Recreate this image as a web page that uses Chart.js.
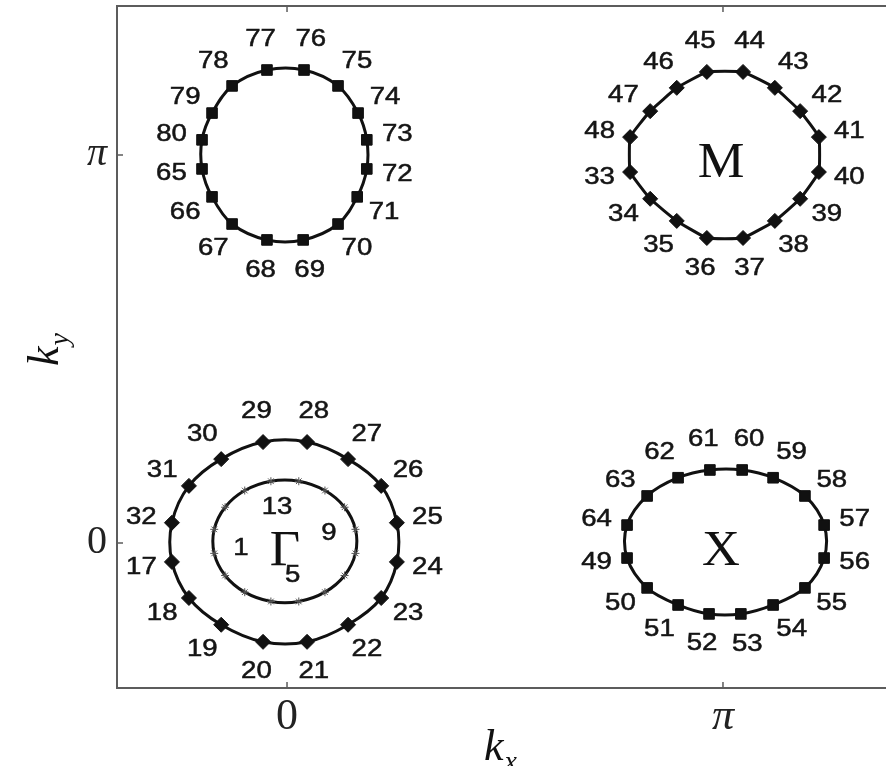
<!DOCTYPE html>
<html>
<head>
<meta charset="utf-8">
<title>Fermi pockets and k-points</title>
<script src="https://cdn.jsdelivr.net/npm/chart.js@4.4.1/dist/chart.umd.min.js"></script>
<style>
  html, body { margin: 0; padding: 0; background: #fff; overflow: hidden; }
  #wrap { width: 900px; height: 766px; }
</style>
</head>
<body>
<div id="wrap"><canvas id="bz" width="900" height="766"></canvas></div>
<script>
// k-points on each pocket (units of pi), counter-clockwise starting left of centre
var gammaInX = [-0.167, -0.142, -0.097, -0.037, 0.027, 0.087, 0.132, 0.157, 0.157, 0.132, 0.087, 0.027, -0.037, -0.097, -0.142, -0.167];
var gammaInY = [-0.027, -0.084, -0.127, -0.151, -0.151, -0.127, -0.084, -0.027, 0.035, 0.092, 0.135, 0.159, 0.159, 0.135, 0.092, 0.035];

var gammaOutX = [-0.264, -0.225, -0.151, -0.055, 0.046, 0.140, 0.216, 0.252, 0.252, 0.216, 0.140, 0.046, -0.055, -0.151, -0.225, -0.264];
var gammaOutY = [-0.049, -0.142, -0.211, -0.255, -0.255, -0.211, -0.142, -0.049, 0.052, 0.147, 0.216, 0.260, 0.260, 0.216, 0.147, 0.052];

var mX = [0.787, 0.833, 0.894, 0.963, 1.046, 1.119, 1.177, 1.220, 1.220, 1.177, 1.119, 1.046, 0.963, 0.894, 0.833, 0.787];
var mY = [0.956, 0.887, 0.830, 0.786, 0.786, 0.830, 0.887, 0.956, 1.046, 1.113, 1.173, 1.214, 1.214, 1.173, 1.113, 1.046];

var xPocketX = [0.780, 0.826, 0.897, 0.968, 1.041, 1.115, 1.188, 1.232, 1.232, 1.188, 1.115, 1.044, 0.970, 0.897, 0.826, 0.780];
var xPocketY = [-0.039, -0.116, -0.160, -0.183, -0.183, -0.160, -0.116, -0.039, 0.046, 0.121, 0.168, 0.188, 0.188, 0.168, 0.121, 0.046];

var yPocketX = [-0.195, -0.172, -0.126, -0.046, 0.037, 0.117, 0.161, 0.183, 0.183, 0.163, 0.117, 0.039, -0.046, -0.126, -0.172, -0.195];
var yPocketY = [0.964, 0.892, 0.822, 0.781, 0.781, 0.822, 0.892, 0.964, 1.039, 1.108, 1.178, 1.219, 1.219, 1.178, 1.108, 1.039];

// first k-point number on each pocket
var pocketFirst = [1, 17, 33, 49, 65];

var tickValues = [0, 1];
var tickNames = ['0', 'π'];

var symNames = ['Γ', 'X', 'M'];
var symX = [0, 1, 1];
var symY = [0, 0, 1];

var LABEL_FONT = '23px "Liberation Sans", Arial, sans-serif';
var SERIF = '"Liberation Serif", "Times New Roman", serif';

// wrap the loop: one point before and two after so the spline closes smoothly
function closedLoop(xs, ys) {
  var n = xs.length;
  var pts = [{x: xs[n - 1], y: ys[n - 1]}];
  for (var i = 0; i < n; i++) {
    pts.push({x: xs[i], y: ys[i]});
  }
  pts.push({x: xs[0], y: ys[0]});
  pts.push({x: xs[1], y: ys[1]});
  return pts;
}

function pocket(xs, ys, style, radius, tension) {
  var n = xs.length;
  var star = style === 'star';
  return {
    data: closedLoop(xs, ys),
    showLine: true,
    borderColor: '#111',
    borderWidth: 3,
    tension: tension,
    pointStyle: style,
    pointBackgroundColor: star ? '#555' : '#111',
    pointBorderColor: star ? '#555' : '#111',
    pointBorderWidth: 1,
    pointRadius: function(ctx) {
      return (ctx.dataIndex >= 1 && ctx.dataIndex <= n) ? radius : 0;
    },
    segment: {
      borderColor: function(ctx) {
        if (ctx.p0DataIndex === 0 || ctx.p0DataIndex === n + 1) return 'rgba(0,0,0,0)';
        return undefined;
      }
    }
  };
}

// text widened a little, with a thin outline to thicken the strokes
function drawStretched(ctx, text, x, y, sx, bold) {
  ctx.save();
  ctx.translate(x, y);
  ctx.scale(sx, 1);
  ctx.fillText(text, 0, 0);
  if (bold) {
    ctx.lineWidth = bold;
    ctx.strokeStyle = ctx.fillStyle;
    ctx.strokeText(text, 0, 0);
  }
  ctx.restore();
}

var decorations = {
  id: 'decorations',
  beforeDatasetsDraw: function(chart) {
    var ctx = chart.ctx, a = chart.chartArea;
    var xs = chart.scales.x, ys = chart.scales.y;
    ctx.save();
    ctx.strokeStyle = '#5c5c5c';
    ctx.lineWidth = 2;
    ctx.strokeRect(a.left, a.top, a.right - a.left, a.bottom - a.top);
    // small inward ticks
    ctx.lineWidth = 1.5;
    ctx.beginPath();
    tickValues.forEach(function(v) {
      var px = xs.getPixelForValue(v);
      ctx.moveTo(px, a.bottom); ctx.lineTo(px, a.bottom - 6);
      ctx.moveTo(px, a.top); ctx.lineTo(px, a.top + 6);
      var py = ys.getPixelForValue(v);
      ctx.moveTo(a.left, py); ctx.lineTo(a.left + 6, py);
      ctx.moveTo(a.right, py); ctx.lineTo(a.right - 6, py);
    });
    ctx.stroke();
    ctx.restore();
  },
  afterDatasetsDraw: function(chart) {
    var ctx = chart.ctx;
    var xs = chart.scales.x, ys = chart.scales.y;
    ctx.save();
    ctx.fillStyle = '#151515';
    ctx.textAlign = 'center';
    ctx.textBaseline = 'middle';
    ctx.font = LABEL_FONT;

    // k-point numbers around each pocket
    chart.data.datasets.forEach(function(ds, d) {
      var meta = chart.getDatasetMeta(d);
      var n = ds.data.length - 3;
      var cx = 0, cy = 0, i;
      for (i = 1; i <= n; i++) { cx += meta.data[i].x; cy += meta.data[i].y; }
      cx /= n; cy /= n;
      for (i = 0; i < n; i++) {
        var inner = d === 0;
        if (inner && i % 4 !== 0) continue;
        var el = meta.data[i + 1];
        var dx = el.x - cx, dy = el.y - cy;
        var len = Math.sqrt(dx * dx + dy * dy);
        var off = inner ? -27 : 31;
        drawStretched(ctx, String(pocketFirst[d] + i), el.x + dx / len * off, el.y + dy / len * off, 1.2, 0.5);
      }
    });

    // high-symmetry points
    ctx.fillStyle = '#111';
    ctx.font = '50px ' + SERIF;
    symNames.forEach(function(s, i) {
      drawStretched(ctx, s, xs.getPixelForValue(symX[i]) - 2, ys.getPixelForValue(symY[i]) + 9, 1.05, 0);
    });

    // axis titles k_x and k_y
    ctx.textAlign = 'left';
    ctx.textBaseline = 'alphabetic';
    ctx.font = 'italic 44px ' + SERIF;
    var kw = ctx.measureText('k').width;
    ctx.fillText('k', 484, 760);
    ctx.font = 'italic 28px ' + SERIF;
    ctx.fillText('x', 484 + kw + 1, 770);

    ctx.translate(58, 366);
    ctx.rotate(-Math.PI / 2);
    ctx.font = 'italic 44px ' + SERIF;
    ctx.fillText('k', 0, 0);
    ctx.font = 'italic 28px ' + SERIF;
    ctx.fillText('y', kw + 1, 10);
    ctx.restore();
  }
};

function tickFont(size) {
  return function(ctx) {
    var italic = ctx.tick && ctx.tick.value === 1;
    return {family: SERIF, size: size, style: italic ? 'italic' : 'normal'};
  };
}

function fixedTicks(s) {
  s.ticks = tickValues.map(function(v) { return {value: v}; });
}

new Chart(document.getElementById('bz'), {
  type: 'scatter',
  data: {
    datasets: [
      pocket(gammaInX, gammaInY, 'star', 4, 0.34),
      pocket(gammaOutX, gammaOutY, 'rectRot', 7.5, 0.34),
      pocket(mX, mY, 'rectRot', 7.5, 0.1),
      pocket(xPocketX, xPocketY, 'rect', 7.5, 0.34),
      pocket(yPocketX, yPocketY, 'rect', 7.5, 0.34)
    ]
  },
  options: {
    responsive: false,
    animation: false,
    layout: {padding: {left: 0, top: 6, right: 7, bottom: 0}},
    plugins: {legend: {display: false}, tooltip: {enabled: false}},
    scales: {
      x: {
        type: 'linear',
        min: -0.39,
        max: 1.39,
        grid: {display: false, drawTicks: false},
        border: {display: false},
        afterBuildTicks: fixedTicks,
        afterFit: function(s) { s.height = 78; s.paddingLeft = 0; s.paddingRight = 0; },
        ticks: {
          padding: 3,
          maxRotation: 0,
          minRotation: 0,
          color: '#222',
          font: tickFont(44),
          callback: function(v) { return tickNames[tickValues.indexOf(v)]; }
        }
      },
      y: {
        type: 'linear',
        min: -0.374,
        max: 1.384,
        grid: {display: false, drawTicks: false},
        border: {display: false},
        afterBuildTicks: fixedTicks,
        afterFit: function(s) { s.width = 117; s.paddingTop = 0; s.paddingBottom = 0; },
        ticks: {
          padding: 10,
          color: '#222',
          font: tickFont(40),
          callback: function(v) { return tickNames[tickValues.indexOf(v)]; }
        }
      }
    }
  },
  plugins: [decorations]
});
</script>
</body>
</html>
